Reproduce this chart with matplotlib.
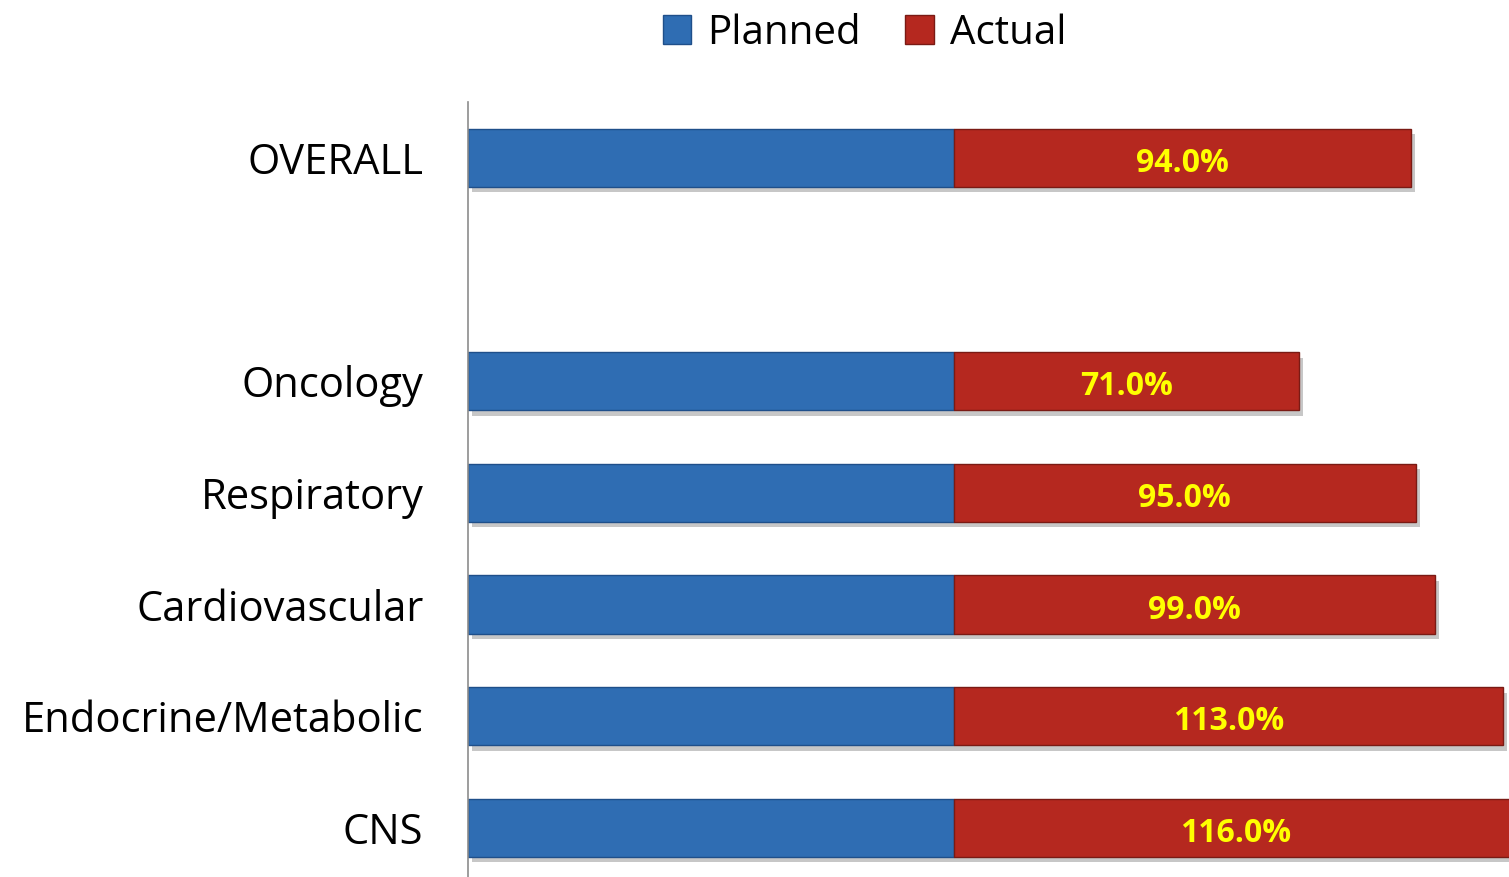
import matplotlib
matplotlib.use("Agg")
import matplotlib.pyplot as plt
import matplotlib.patheffects as pe

# data (bottom to top; '' is the empty gap slot)
categories = ["CNS", "Endocrine/Metabolic", "Cardiovascular", "Respiratory", "Oncology", "", "OVERALL"]
planned = [100, 100, 100, 100, 100, None, 100]
actual = [116.0, 113.0, 99.0, 95.0, 71.0, None, 94.0]

blue = "#2f6db3"
red = "#b5281f"

plt.rcParams['font.family'] = ['Open Sans', 'DejaVu Sans']

fig = plt.figure(figsize=(15.09, 8.77), dpi=100)
ax = fig.add_axes([0.310, 0.0, 0.690, 0.8837])

shadow = [pe.SimplePatchShadow(offset=(3, -4), shadow_rgbFace="#000000", alpha=0.22), pe.Normal()]

bars = []
for i, (p, a) in enumerate(zip(planned, actual)):
    if p is None:
        continue
    b1 = ax.barh(i, p, height=0.52, color=blue, edgecolor="#1f4f8a", linewidth=1.0,
                 label="Planned" if i == 0 else None)
    b2 = ax.barh(i, a, left=p, height=0.52, color=red, edgecolor="#7a1a14", linewidth=1.0,
                 label="Actual" if i == 0 else None)
    bars += list(b1) + list(b2)
    # label sits a touch below centre, like the original
    ax.text(p + a / 2, i - 0.05, f"{a:.1f}%", ha="center", va="center", color="#ffff00",
            fontsize=23, fontweight="bold", clip_on=False)

ax.set_xlim(0, 214.2)
ax.set_ylim(-0.44, 6.5)
ax.set_yticks(range(len(categories)))
ax.set_yticklabels(categories, fontsize=30, va="center_baseline")
ax.tick_params(axis="y", length=0, pad=32)
ax.set_xticks([])
for s in ["top", "right", "bottom"]:
    ax.spines[s].set_visible(False)
ax.spines["left"].set_color("#8c8c8c")
ax.spines["left"].set_linewidth(1.2)

fig.legend(loc="center", bbox_to_anchor=(0.573, 0.962), ncol=2, frameon=False, fontsize=29,
           handlelength=0.7, handleheight=0.7, handletextpad=0.4, columnspacing=1.1)

# shadows only on the bars, not the legend squares
for r in bars:
    r.set_path_effects(shadow)

fig.savefig("out.png", dpi=100)
